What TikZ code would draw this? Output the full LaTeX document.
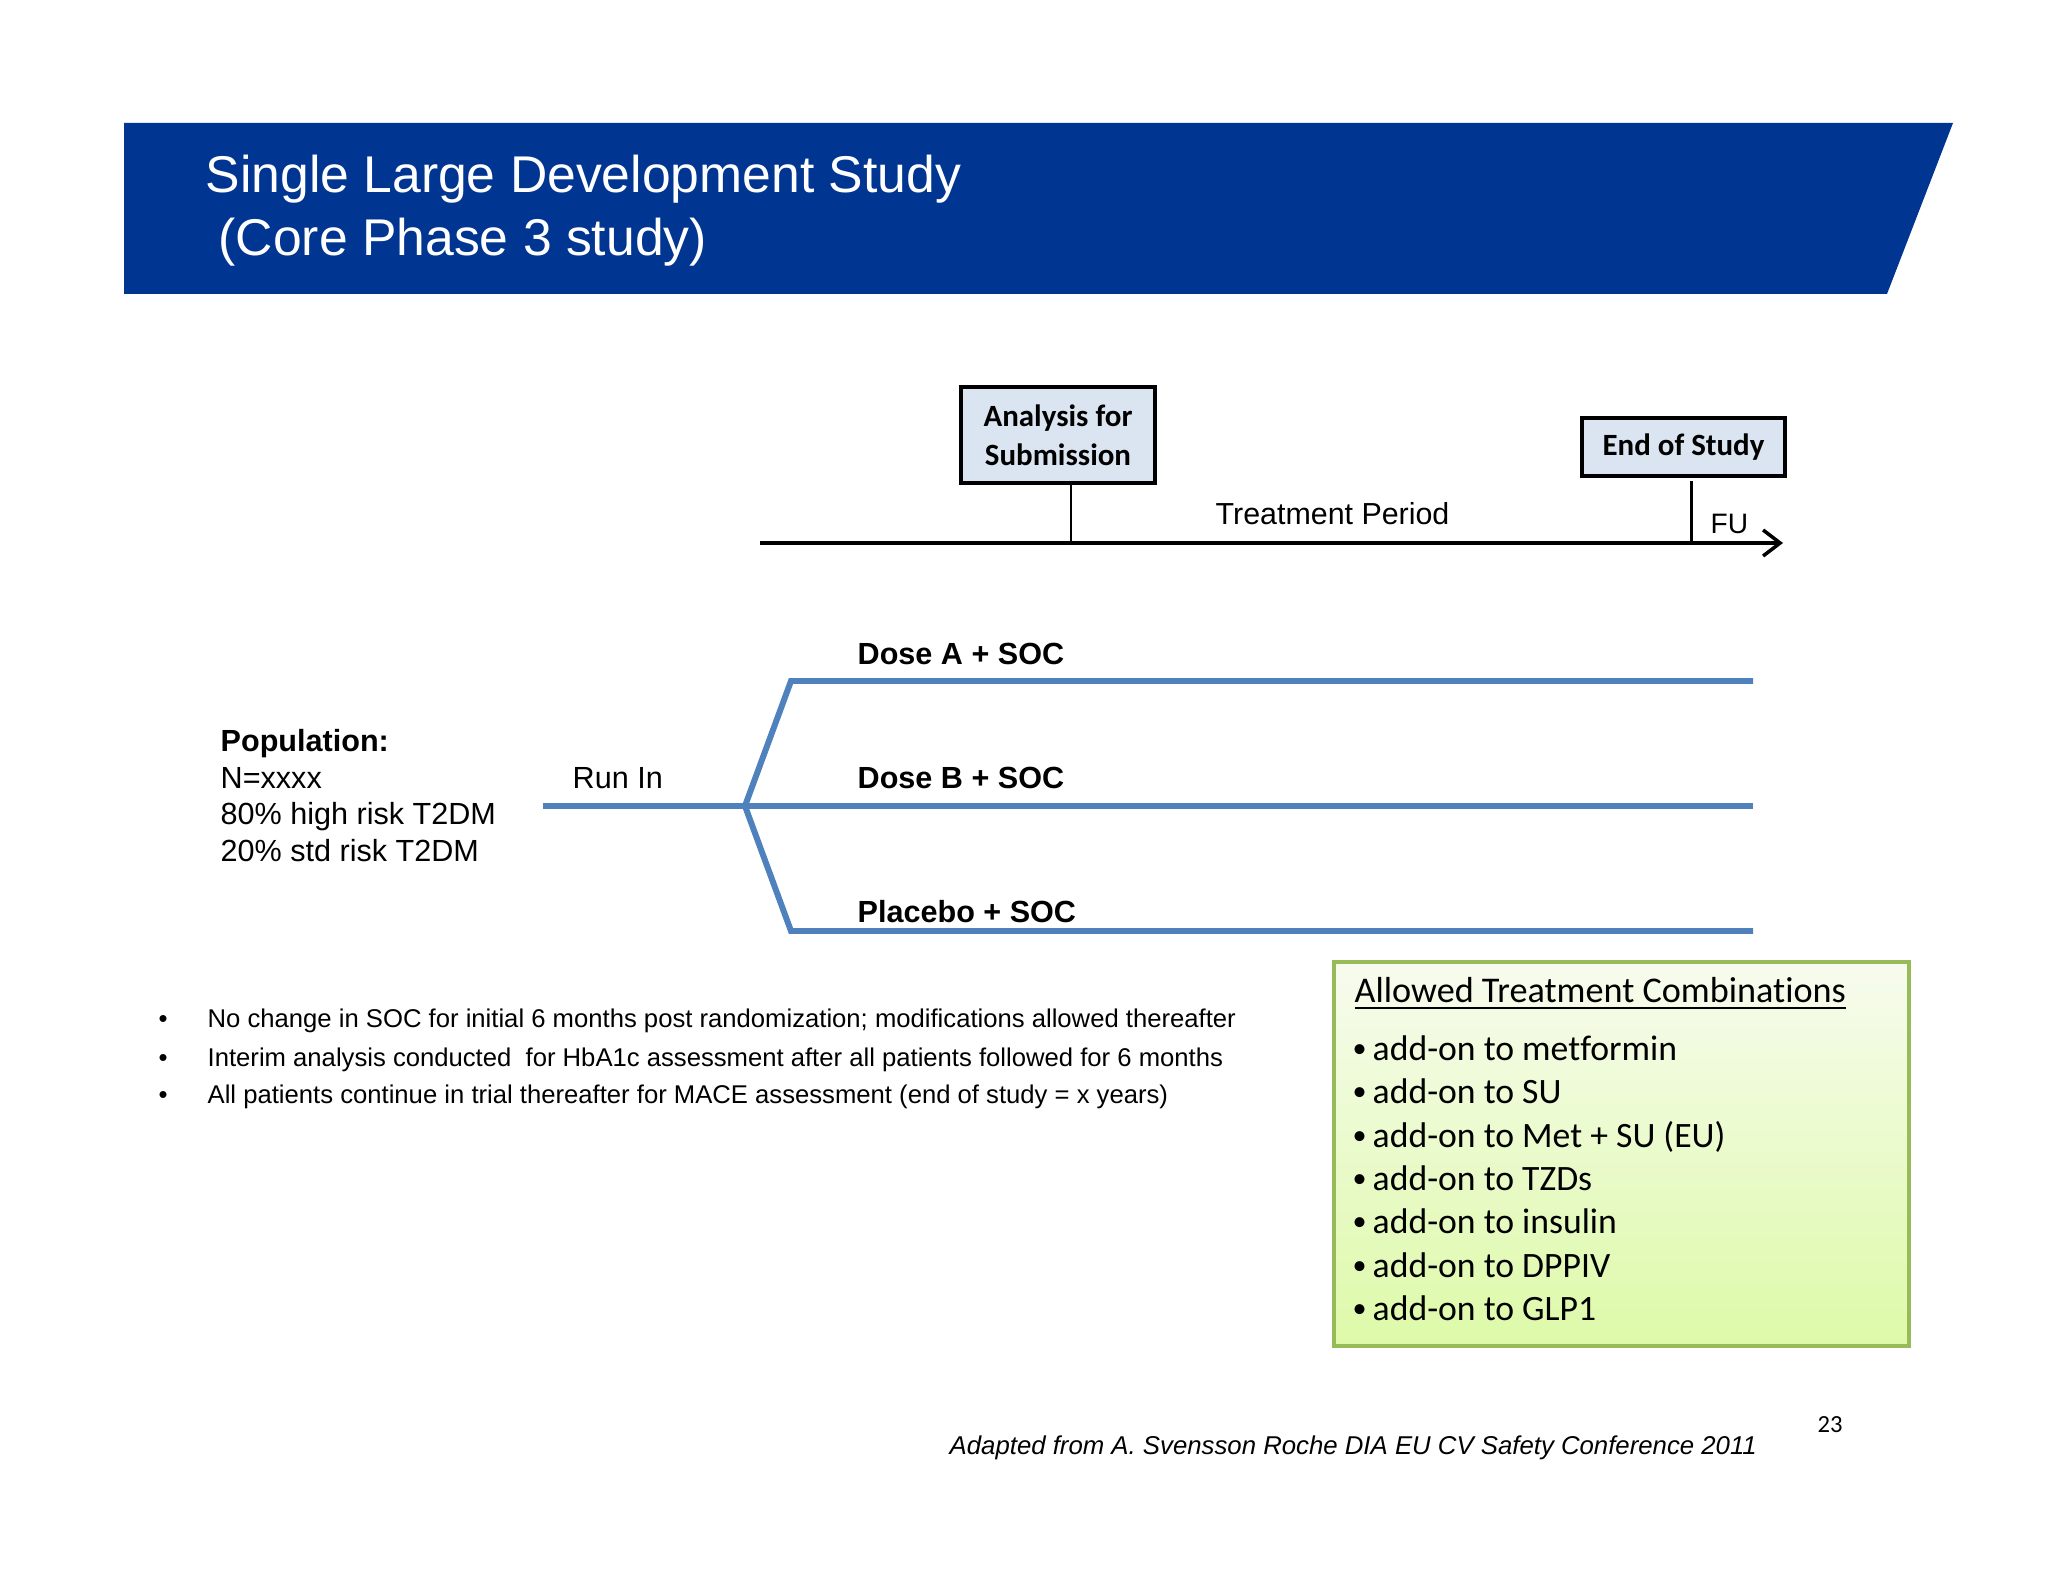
\documentclass[tikz,border=0pt]{standalone}
\usepackage{fontspec}
\setmainfont{Liberation Sans}
\newfontfamily\calibri[Ligatures=NoCommon]{Carlito}
\usetikzlibrary{positioning,arrows.meta}
\definecolor{bannerblue}{RGB}{0,54,145}
\definecolor{armblue}{RGB}{79,129,189}
\definecolor{milefill}{RGB}{219,229,241}
\definecolor{combtop}{RGB}{247,251,238}
\definecolor{combbot}{RGB}{221,250,168}
\definecolor{combline}{RGB}{152,187,89}
\newcommand{\combdot}{\makebox[0.20cm][l]{\raisebox{0.12ex}{\fontsize{8}{8}\selectfont•}}}

\begin{document}
\begin{tikzpicture}[
  txt/.style = {anchor=base west, inner sep=0pt},
  title/.style = {txt, text=white, font=\fontsize{14.7}{17}\selectfont},
  milestone/.style = {draw, line width=0.9pt, fill=milefill, inner sep=0pt, align=center,
    font=\calibri\bfseries\fontsize{8.8}{11.1}\selectfont},
  tick/.style = {line width=0.85pt},
  plain/.style = {txt, font=\fontsize{8.7}{10}\selectfont},
  armlabel/.style = {txt, font=\bfseries\fontsize{8.7}{10}\selectfont},
  arm/.style = {line width=1.7pt, armblue},
  note/.style = {txt, font=\fontsize{7.3}{9}\selectfont},
  comb/.style = {txt, font=\calibri\fontsize{10.15}{12}\selectfont}
]
\useasboundingbox (0,0) rectangle (20.48,-15.82);
\fill[white] (0,0) rectangle (20.48,-15.82);

% header banner
\fill[bannerblue] (1.24,-1.23) -- (19.53,-1.23) -- (18.87,-2.94) -- (1.24,-2.94) -- cycle;
\node[title] (title1) at (2.05,-1.93) {Single Large Development Study};
\node[title] (title2) at (2.18,-2.56) {(Core Phase 3 study)};

% time line
\coordinate (tl start) at (7.60,-5.43);
\coordinate (tl end) at (17.83,-5.43);
\draw[line width=1pt, -{Straight Barb[length=1.7mm,width=2.6mm]}] (tl start) -- (tl end);
\node[milestone, minimum width=1.94cm, minimum height=0.96cm] (analysis) at (10.58,-4.35) {Analysis for\\Submission};
\node[milestone, minimum width=2.03cm, minimum height=0.58cm] (eos) at (16.835,-4.47) {End of Study};
\coordinate (tick1) at (10.71,-5.43);
\coordinate (tick2) at (16.91,-5.43);
\draw[tick] (tick1) -- (tick1 |- analysis.south);
\draw[tick] (tick2) -- ++(0,0.62);
\node[plain, font=\fontsize{8.65}{10}\selectfont] (treat) at (12.15,-5.25) {Treatment Period};
\node[plain, font=\fontsize{8}{10}\selectfont] (fu) at (17.10,-5.33) {FU};

% randomisation
\coordinate (runin) at (5.43,-8.06);
\coordinate (split) at (7.45,-8.06);
\coordinate (a start) at (7.91,-6.81);
\coordinate (a end) at (17.53,-6.81);
\coordinate (b end) at (17.53,-8.06);
\coordinate (c start) at (7.91,-9.31);
\coordinate (c end) at (17.53,-9.31);
\draw[arm] (runin) -- (split) -- (b end);
\draw[arm] (a end) -- (a start) -- (split) -- (c start) -- (c end);
\node[armlabel] (doseA) at (8.57,-6.65) {Dose A + SOC};
\node[armlabel] (doseB) at (8.57,-7.88) {Dose B + SOC};
\node[armlabel] (placebo) at (8.57,-9.22) {Placebo + SOC};
\node[plain] (runlabel) at (5.72,-7.88) {Run In};

% population
\node[plain, font=\bfseries\fontsize{8.7}{10}\selectfont] (pop) at (2.20,-7.52) {Population:};
\node[plain] (popN) at (2.20,-7.88) {N=xxxx};
\node[plain] (pop80) at (2.20,-8.25) {80\% high risk T2DM};
\node[plain] (pop20) at (2.20,-8.62) {20\% std risk T2DM};

% notes
\node[note] (note1) at (1.58,-10.27) {\makebox[0.49cm][l]{•}No change in SOC for initial 6 months post randomization; modifications allowed thereafter};
\node[note] (note2) at (1.58,-10.66) {\makebox[0.49cm][l]{•}Interim analysis conducted \ for HbA1c assessment after all patients followed for 6 months};
\node[note] (note3) at (1.58,-11.03) {\makebox[0.49cm][l]{•}All patients continue in trial thereafter for MACE assessment (end of study = x years)};

% allowed combinations
\shade[top color=combtop, bottom color=combbot] (13.34,-9.62) rectangle (19.09,-13.46);
\draw[combline, line width=0.9pt] (13.34,-9.62) rectangle (19.09,-13.46);
\node[comb, font=\calibri\fontsize{10.3}{12}\selectfont] (combtitle) at (13.54,-10.03) {\underline{Allowed Treatment Combinations}};
\node[comb] (comb1) at (13.52,-10.60) {\combdot add-on to metformin};
\node[comb] (comb2) at (13.52,-11.03) {\combdot add-on to SU};
\node[comb] (comb3) at (13.52,-11.47) {\combdot add-on to Met + SU (EU)};
\node[comb] (comb4) at (13.52,-11.90) {\combdot add-on to TZDs};
\node[comb] (comb5) at (13.52,-12.33) {\combdot add-on to insulin};
\node[comb] (comb6) at (13.52,-12.77) {\combdot add-on to DPPIV};
\node[comb] (comb7) at (13.52,-13.20) {\combdot add-on to GLP1};

% footer
\node[note, font=\itshape\fontsize{7.33}{9}\selectfont] (source) at (9.49,-14.54) {Adapted from A. Svensson Roche DIA EU CV Safety Conference 2011};
\node[txt, font=\calibri\fontsize{7}{8}\selectfont] (page) at (18.17,-14.32) {23};
\end{tikzpicture}
\end{document}
